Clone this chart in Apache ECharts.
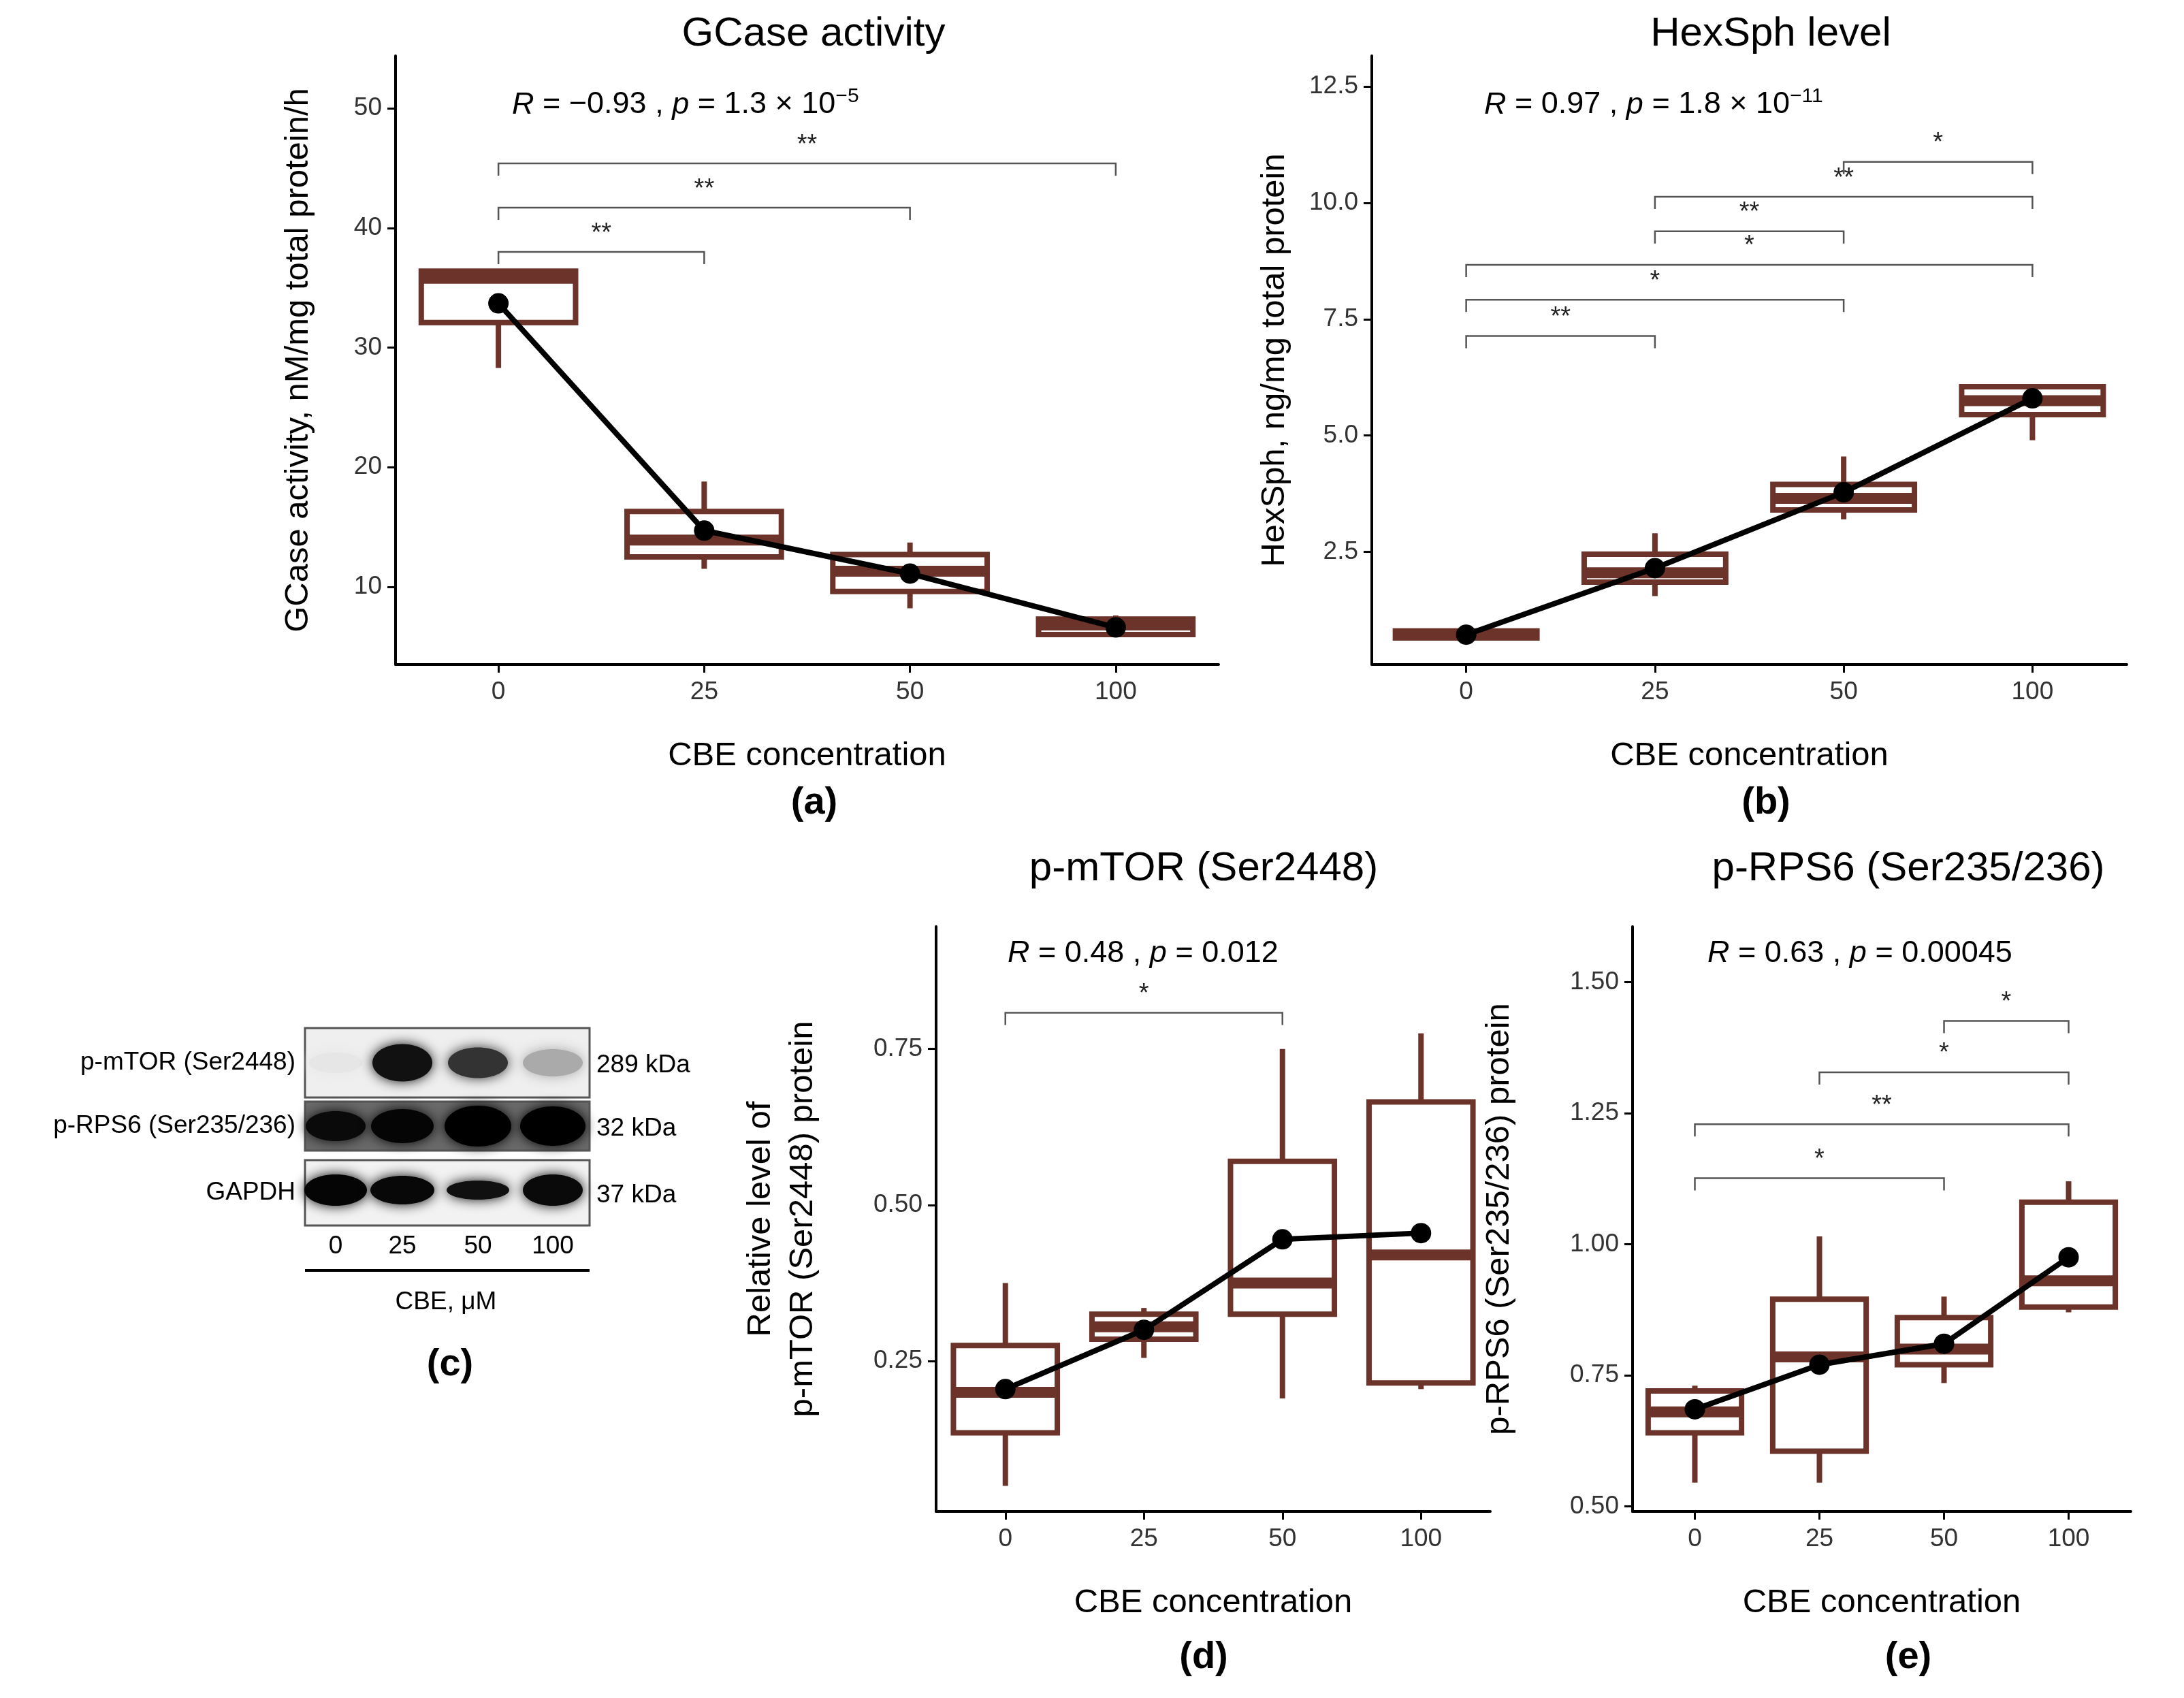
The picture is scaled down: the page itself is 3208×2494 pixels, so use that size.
<!DOCTYPE html>
<html><head><meta charset="utf-8">
<script src="https://cdn.jsdelivr.net/npm/echarts@6/dist/echarts.min.js"></script>
<style>html,body{margin:0;padding:0;background:#fff}#c{width:3208px;height:2494px}</style>
</head><body><div id="c"></div>
<script>
var categories = ['0','25','50','100'];
// box stats: [min, q1, median, q3, max]
var boxA = [[28.3,32.1,35.8,36.4,36.4],[11.5,12.5,13.9,16.3,18.8],[8.2,9.6,11.3,12.7,13.7],[5.8,6.0,6.8,7.3,7.6]];
var meanA = [33.7,14.7,11.1,6.6];
var brA = [[0,1,38,'**'],[0,2,41.7,'**'],[0,3,45.4,'**']];
var boxB = [[0.6,0.65,0.72,0.8,0.85],[1.55,1.85,2.05,2.45,2.9],[3.2,3.4,3.65,3.95,4.55],[4.9,5.45,5.75,6.05,6.1]];
var meanB = [0.72,2.15,3.78,5.8];
var brB = [[0,1,7.14,'**'],[0,2,7.92,'*'],[0,3,8.67,'*'],[1,2,9.39,'**'],[1,3,10.13,'**'],[2,3,10.88,'*']];
var boxD = [[0.05,0.135,0.2,0.275,0.375],[0.255,0.285,0.305,0.325,0.335],[0.19,0.325,0.375,0.57,0.75],[0.205,0.215,0.42,0.665,0.775]];
var meanD = [0.205,0.3,0.445,0.455];
var brD = [[0,2,0.808,'*']];
var boxE = [[0.545,0.64,0.68,0.72,0.73],[0.545,0.605,0.785,0.895,1.015],[0.735,0.77,0.8,0.86,0.9],[0.87,0.88,0.93,1.08,1.12]];
var meanE = [0.685,0.77,0.81,0.975];
var brE = [[0,2,1.126,'*'],[0,3,1.229,'**'],[1,3,1.328,'*'],[2,3,1.426,'*']];
var ticksA = [10,20,30,40,50], ticksB = [2.5,5.0,7.5,10.0,12.5], ticksD = [0.25,0.5,0.75], ticksE = [0.5,0.75,1.0,1.25,1.5];
var blotRows = ['p-mTOR (Ser2448)','p-RPS6 (Ser235/236)','GAPDH'];
var blotKDa = ['289 kDa','32 kDa','37 kDa'];

var BROWN = '#6b3329', FONT = 'Liberation Sans, Arial, sans-serif';
var chart = echarts.init(document.getElementById('c'), null, {renderer:'canvas'});

var grids = [
  {left:581, top:82, width:1209, height:894},
  {left:2015, top:82, width:1109, height:894},
  {left:1375, top:1361, width:814, height:859},
  {left:2398, top:1361, width:732, height:859}
];
var yr = [[3.5,54.4,ticksA,0],[0.08,13.16,ticksB,1],[0.009,0.946,ticksD,2],[0.49,1.606,ticksE,2]];
var yNames = ['GCase activity, nM/mg total protein/h','HexSph, ng/mg total protein','Relative level of\np-mTOR (Ser2448) protein','Relative level of\np-RPS6 (Ser235/236) protein'];
var yGaps = [112,112,165,165];

var xAxes = [], yAxes = [], series = [];
var boxes = [boxA,boxB,boxD,boxE], means = [meanA,meanB,meanD,meanE], brs = [brA,brB,brD,brE];
var axLine = {show:true, lineStyle:{color:'#000', width:4}};
for (var i=0;i<4;i++){
  xAxes.push({type:'category', gridIndex:i, data:categories, boundaryGap:true,
    axisLine:axLine, axisTick:{show:true, alignWithLabel:true, length:12, lineStyle:{color:'#000',width:3}},
    axisLabel:{fontSize:37, color:'#333', fontFamily:FONT, margin:22},
    name:'CBE concentration', nameLocation:'middle', nameGap:110, nameTextStyle:{fontSize:49, color:'#000', fontFamily:FONT}});
  (function(r){
  yAxes.push({type:'value', gridIndex:i, min:r[0], max:r[1], splitLine:{show:false},
    axisLine:axLine,
    axisTick:{show:true, length:12, customValues:r[2], lineStyle:{color:'#000',width:3}},
    axisLabel:{fontSize:37, color:'#333', fontFamily:FONT, margin:20, customValues:r[2],
      formatter:function(v){return r[3]===0?String(Math.round(v)):v.toFixed(r[3]);}},
    name:yNames[i], nameLocation:'middle', nameGap:yGaps[i], nameTextStyle:{fontSize:49, color:'#000', fontFamily:FONT, lineHeight:62}});
  })(yr[i]);
  var bd = boxes[i].map(function(b,k){return [k].concat(b);});
  series.push({type:'custom', xAxisIndex:i, yAxisIndex:i, data:bd, encode:{x:0,y:[1,2,3,4,5]},
    renderItem:function(p, api){
      var x = api.value(0), bw = api.size([1,0])[0]*0.75;
      var pMin = api.coord([x, api.value(1)]), pQ1 = api.coord([x, api.value(2)]), pMed = api.coord([x, api.value(3)]),
          pQ3 = api.coord([x, api.value(4)]), pMax = api.coord([x, api.value(5)]);
      var cx = pMin[0], st = {stroke:BROWN, lineWidth:8, fill:null};
      return {type:'group', children:[
        {type:'line', shape:{x1:cx,y1:pMin[1],x2:cx,y2:pQ1[1]}, style:st},
        {type:'line', shape:{x1:cx,y1:pQ3[1],x2:cx,y2:pMax[1]}, style:st},
        {type:'rect', shape:{x:cx-bw/2, y:pQ3[1], width:bw, height:pQ1[1]-pQ3[1]}, style:{stroke:BROWN, lineWidth:8, fill:'#fff'}},
        {type:'line', shape:{x1:cx-bw/2,y1:pMed[1],x2:cx+bw/2,y2:pMed[1]}, style:{stroke:BROWN, lineWidth:16}}
      ]};
    }, z:2});
  series.push({type:'line', xAxisIndex:i, yAxisIndex:i, data:means[i], symbol:'circle', symbolSize:30,
    lineStyle:{color:'#000', width:8}, itemStyle:{color:'#000'}, z:5, silent:true});
  series.push({type:'custom', xAxisIndex:i, yAxisIndex:i, data:brs[i],
    renderItem:function(p, api){
      var a = api.coord([api.value(0), api.value(2)]), b = api.coord([api.value(1), api.value(2)]);
      var lab = brs[p.seriesIndex===2?0:p.seriesIndex===5?1:p.seriesIndex===8?2:3][p.dataIndex][3];
      return {type:'group', children:[
        {type:'polyline', shape:{points:[[a[0],a[1]+18],[a[0],a[1]],[b[0],b[1]],[b[0],b[1]+18]]}, style:{stroke:'#555', lineWidth:2.5, fill:null}},
        {type:'text', x:(a[0]+b[0])/2, y:a[1]-8, style:{text:lab, fontSize:38, fontFamily:FONT, fill:'#222', align:'center', verticalAlign:'bottom'}}
      ]};
    }, z:3});
}

var rich = {i:{fontStyle:'italic', fontSize:45, fontFamily:FONT, fill:'#000'}, n:{fontSize:45, fontFamily:FONT, fill:'#000'},
  sup:{fontSize:30, fontFamily:FONT, fill:'#000', padding:[0,0,24,0]}};
function rtext(x,y,s){return {type:'text', left:x, top:y, style:{rich:rich, text:s, fill:'#000', fontSize:45, fontFamily:FONT}, z:10};}
function t(x,y,s,fs,bold,align){return {type:'text', x:x, y:y, style:{text:s, fontSize:fs, fontWeight:bold?'bold':'normal', fontFamily:FONT, fill:'#000', align:align||'center', verticalAlign:'middle'}, z:10};}

var graphic = [
  t(1195,50,'GCase activity',60), t(2601,50,'HexSph level',60), t(1768,1276,'p-mTOR (Ser2448)',60), t(2803,1276,'p-RPS6 (Ser235/236)',60),
  t(1196,1180,'(a)',56,true), t(2594,1180,'(b)',56,true), t(661,2005,'(c)',56,true), t(1768,2435,'(d)',56,true), t(2803,2435,'(e)',56,true),
  rtext(752,127,'{i|R}{n| = −0.93 , }{i|p}{n| = 1.3 × 10}{sup|−5}'),
  rtext(2180,127,'{i|R}{n| = 0.97 , }{i|p}{n| = 1.8 × 10}{sup|−11}'),
  rtext(1480,1378,'{i|R}{n| = 0.48 , }{i|p}{n| = 0.012}'),
  rtext(2508,1378,'{i|R}{n| = 0.63 , }{i|p}{n| = 0.00045}')
];
// western blot panel
var rowsY = [[1510,102],[1618,72],[1704,96]];
var lanes = [493,591,702,812];
var bgs = ['#efefef','#6a6a6a','#f2f2f2'];
var bands = [
  [[0,'#e6e6e6',70,30],[1,'#111',80,55],[2,'#333',80,45],[3,'#aaa',80,40]],
  [[0,'#0a0a0a',80,44],[1,'#050505',84,50],[2,'#000',90,60],[3,'#000',88,58]],
  [[0,'#050505',84,46],[1,'#080808',86,42],[2,'#101010',84,28],[3,'#0a0a0a',80,46]]
];
for (var r=0;r<3;r++){
  var ry = rowsY[r];
  graphic.push({type:'rect', shape:{x:448,y:ry[0],width:418,height:ry[1]}, style:{fill:bgs[r], stroke:'#555', lineWidth:3}, z:5});
  bands[r].forEach(function(b){
    var cy = ry[0]+ry[1]/2 + (r===2?-4:0);
    graphic.push({type:'ellipse', shape:{cx:lanes[b[0]], cy:cy, rx:b[2]/2+4, ry:b[3]/2}, style:{fill:b[1], shadowBlur:18, shadowColor:b[1]}, z:6});
  });
  graphic.push(t(434, ry[0]+ry[1]/2, blotRows[r], 37, false, 'right'));
  graphic.push(t(876, ry[0]+ry[1]/2+4, blotKDa[r], 37, false, 'left'));
}
categories.forEach(function(c,k){graphic.push(t(lanes[k],1831,c,37));});
graphic.push({type:'line', shape:{x1:448,y1:1866,x2:866,y2:1866}, style:{stroke:'#000', lineWidth:4}, z:5});
graphic.push(t(655,1913,'CBE, μM',37));

chart.setOption({animation:false, backgroundColor:'#fff', grid:grids, xAxis:xAxes, yAxis:yAxes, series:series, graphic:graphic});
</script></body></html>
